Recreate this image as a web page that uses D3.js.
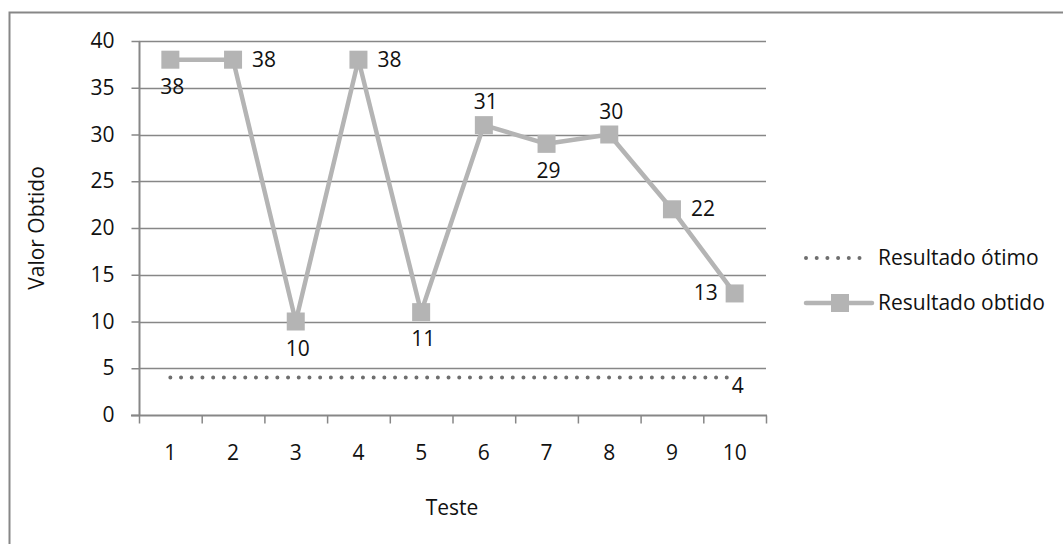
<!DOCTYPE html>
<html>
<head>
<meta charset="utf-8">
<script src="https://cdn.jsdelivr.net/npm/d3@7"></script>
<style>
  html, body { margin: 0; padding: 0; background: #fff; }
  svg { display: block; }
  text { font-family: "Open Sans", sans-serif; fill: #111; }
</style>
</head>
<body>
<svg id="chart" width="1063" height="544"></svg>
<script>
// Test numbers along the x axis
const tests = [1, 2, 3, 4, 5, 6, 7, 8, 9, 10];
// Obtained result for each test
const obtained = [38, 38, 10, 38, 11, 31, 29, 30, 22, 13];
// Optimal result (constant reference)
const optimal = [4, 4, 4, 4, 4, 4, 4, 4, 4, 4];
// Y axis ticks
const yTicks = [0, 5, 10, 15, 20, 25, 30, 35, 40];
// Where each value label sits relative to its marker
const labelPos = ["below", "right", "below", "right", "below", "above", "below", "above", "right", "left"];
const seriesNames = ["Resultado ótimo", "Resultado obtido"];

const svg = d3.select("#chart");
const plot = { left: 139, right: 766, top: 41, bottom: 415 };

const lineGray = "#b4b4b4";
const axisGray = "#878787";
const dotGray = "#6e6e6e";
const fs = 21;
const font = "'Open Sans', sans-serif";

// Outer chart frame (runs off the right and bottom edges)
svg.append("rect")
  .attr("x", 9.5).attr("y", 12.5)
  .attr("width", 1060).attr("height", 540)
  .attr("fill", "none").attr("stroke", axisGray).attr("stroke-width", 2);

const x = d3.scaleBand().domain(tests).range([plot.left, plot.right]);
const y = d3.scaleLinear().domain([0, 40]).range([plot.bottom, plot.top]);
const cx = d => x(d) + x.bandwidth() / 2;

// Horizontal gridlines
svg.append("g").selectAll("line").data(yTicks.filter(t => t > 0)).join("line")
  .attr("x1", plot.left).attr("x2", plot.right)
  .attr("y1", d => Math.round(y(d)) + 0.5).attr("y2", d => Math.round(y(d)) + 0.5)
  .attr("stroke", axisGray).attr("stroke-width", 1.5);

// Y axis
const yAxis = d3.axisLeft(y).tickValues(yTicks).tickSize(8).tickPadding(17);
const gy = svg.append("g").attr("transform", `translate(${plot.left + 0.5},0)`).call(yAxis);
gy.select(".domain").attr("stroke", axisGray).attr("stroke-width", 2).attr("d", `M0,${plot.top}V${plot.bottom}`);
gy.selectAll(".tick line").attr("stroke", axisGray).attr("stroke-width", 1.5);
gy.selectAll(".tick text").attr("font-size", fs).attr("font-family", font).attr("fill", "#111");

// X axis: ticks on category boundaries, labels centered in each band
const gx = svg.append("g").attr("transform", `translate(0,${plot.bottom + 0.5})`);
gx.append("line").attr("x1", plot.left - 8).attr("x2", plot.right + 1)
  .attr("stroke", axisGray).attr("stroke-width", 2);
const bounds = tests.map(t => x(t)).concat([plot.right]);
gx.selectAll("line.tk").data(bounds).join("line").attr("class", "tk")
  .attr("x1", d => d + 0.5).attr("x2", d => d + 0.5)
  .attr("y1", 0).attr("y2", 8)
  .attr("stroke", axisGray).attr("stroke-width", 1.5);
gx.selectAll("text").data(tests).join("text")
  .attr("x", d => cx(d)).attr("y", 44)
  .attr("text-anchor", "middle").attr("font-size", fs)
  .text(d => d);

// Axis titles
svg.append("text").attr("x", 452).attr("y", 515)
  .attr("text-anchor", "middle").attr("font-size", fs).text("Teste");
svg.append("text")
  .attr("transform", "translate(44,228) rotate(-90)")
  .attr("text-anchor", "middle").attr("font-size", fs).text("Valor Obtido");

// Optimal series: dotted line
svg.append("path")
  .datum(optimal)
  .attr("d", d3.line().x((d, i) => cx(tests[i])).y(d => y(d)))
  .attr("fill", "none").attr("stroke", dotGray).attr("stroke-width", 4)
  .attr("stroke-linecap", "round").attr("stroke-dasharray", "0 10.7");

// Obtained series: line with square markers
svg.append("path")
  .datum(obtained)
  .attr("d", d3.line().x((d, i) => cx(tests[i])).y(d => y(d)))
  .attr("fill", "none").attr("stroke", lineGray).attr("stroke-width", 4.5)
  .attr("stroke-linejoin", "round");
const ms = 18;
svg.append("g").selectAll("rect").data(obtained).join("rect")
  .attr("x", (d, i) => cx(tests[i]) - ms / 2)
  .attr("y", d => y(d) - ms / 2)
  .attr("width", ms).attr("height", ms)
  .attr("fill", lineGray);

// Value labels for the obtained series
svg.append("g").selectAll("text").data(obtained).join("text")
  .attr("font-size", fs)
  .attr("text-anchor", (d, i) => labelPos[i] === "right" ? "start" : labelPos[i] === "left" ? "end" : "middle")
  .attr("x", (d, i) => {
    const p = labelPos[i];
    return cx(tests[i]) + (p === "right" ? 19 : p === "left" ? -17 : 2);
  })
  .attr("y", (d, i) => {
    const p = labelPos[i];
    const yy = y(d);
    return p === "below" ? yy + 34 : p === "above" ? yy - 16 : yy + 7;
  })
  .text(d => d);

// Value label for the optimal series (last point)
const lastI = optimal.length - 1;
svg.append("text").attr("font-size", fs)
  .attr("x", cx(tests[lastI]) - 3).attr("y", y(optimal[lastI]) + 15)
  .text(optimal[lastI]);

// Legend
const lg = svg.append("g");
lg.append("line").attr("x1", 806).attr("x2", 866).attr("y1", 258).attr("y2", 258)
  .attr("stroke", dotGray).attr("stroke-width", 4)
  .attr("stroke-linecap", "round").attr("stroke-dasharray", "0 10.7");
lg.append("text").attr("x", 878).attr("y", 265).attr("font-size", fs).text(seriesNames[0]);
lg.append("line").attr("x1", 806).attr("x2", 872).attr("y1", 303).attr("y2", 303)
  .attr("stroke", lineGray).attr("stroke-width", 4.5).attr("stroke-linecap", "round");
lg.append("rect").attr("x", 831).attr("y", 294).attr("width", 18).attr("height", 18).attr("fill", lineGray);
lg.append("text").attr("x", 878).attr("y", 310).attr("font-size", fs).text(seriesNames[1]);
</script>
</body>
</html>
